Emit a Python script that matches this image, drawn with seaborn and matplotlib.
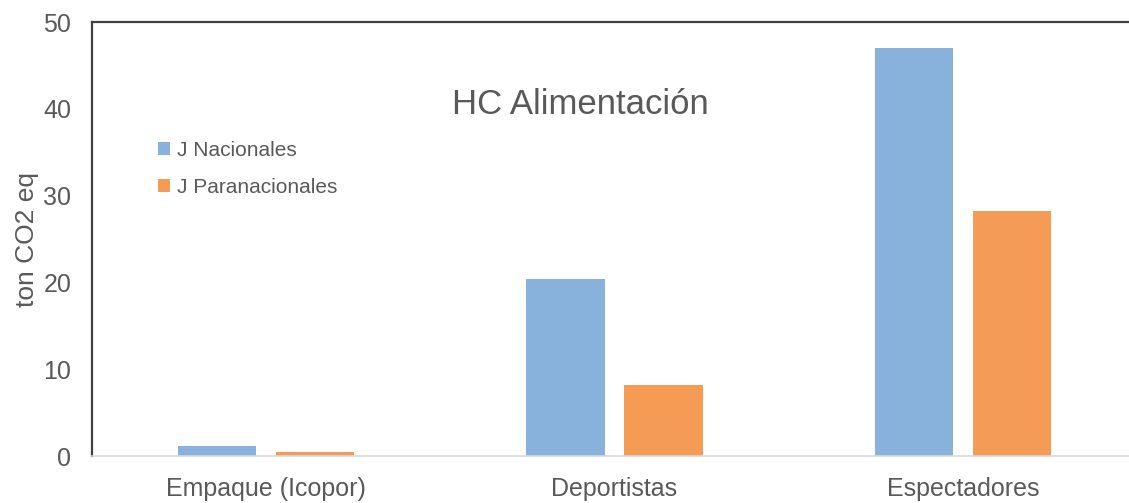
import matplotlib
matplotlib.use("Agg")
import matplotlib.pyplot as plt
import seaborn as sns
import pandas as pd

# Data
categories = ["Empaque (Icopor)", "Deportistas", "Espectadores"]
series = ["J Nacionales", "J Paranacionales"]
nacionales = [1.15, 20.4, 47.0]
paranacionales = [0.5, 8.2, 28.2]
colors = ["#88B1DB", "#F49C56"]

df = pd.DataFrame({
    "categoria": categories * 2,
    "serie": [series[0]] * 3 + [series[1]] * 3,
    "valor": nacionales + paranacionales,
})

sns.set_theme(style="white")
plt.rcParams["font.family"] = ["Liberation Sans", "DejaVu Sans"]
text_color = "#595959"

fig = plt.figure(figsize=(11.29, 5.03), dpi=100)
ax = fig.add_axes([0.0815, 0.0934, 0.9256, 0.8628])

sns.barplot(data=df, x="categoria", y="valor", hue="serie",
            palette=colors, width=0.562, gap=0.2, ax=ax,
            saturation=1, edgecolor="none", errorbar=None)

ax.set_xlim(-0.5, 2.5)
ax.set_ylim(0, 50)
ax.set_yticks([0, 10, 20, 30, 40, 50])
ax.tick_params(axis="both", length=0, colors=text_color, labelsize=18)
ax.tick_params(axis="y", pad=15)
ax.tick_params(axis="x", pad=15)
ax.set_xlabel("")
ax.set_ylabel("ton CO2 eq", fontsize=19, color=text_color, labelpad=3)

for side in ["top", "left"]:
    ax.spines[side].set_visible(True)
    ax.spines[side].set_color("#404040")
    ax.spines[side].set_linewidth(1.6)
ax.spines["right"].set_visible(False)
ax.spines["bottom"].set_color("#d9d9d9")
ax.spines["bottom"].set_linewidth(1.2)

ax.text(0.467, 0.81, "HC Alimentación", transform=ax.transAxes,
        ha="center", va="center", fontsize=25, color=text_color)

handles, labels = ax.get_legend_handles_labels()
ax.legend(handles, labels, loc="upper left", bbox_to_anchor=(0.053, 0.75),
          frameon=False, fontsize=15, handlelength=0.6, handleheight=0.55,
          handletextpad=0.3, labelspacing=0.85, borderpad=0,
          labelcolor=text_color)

fig.savefig("out.png", dpi=100)
